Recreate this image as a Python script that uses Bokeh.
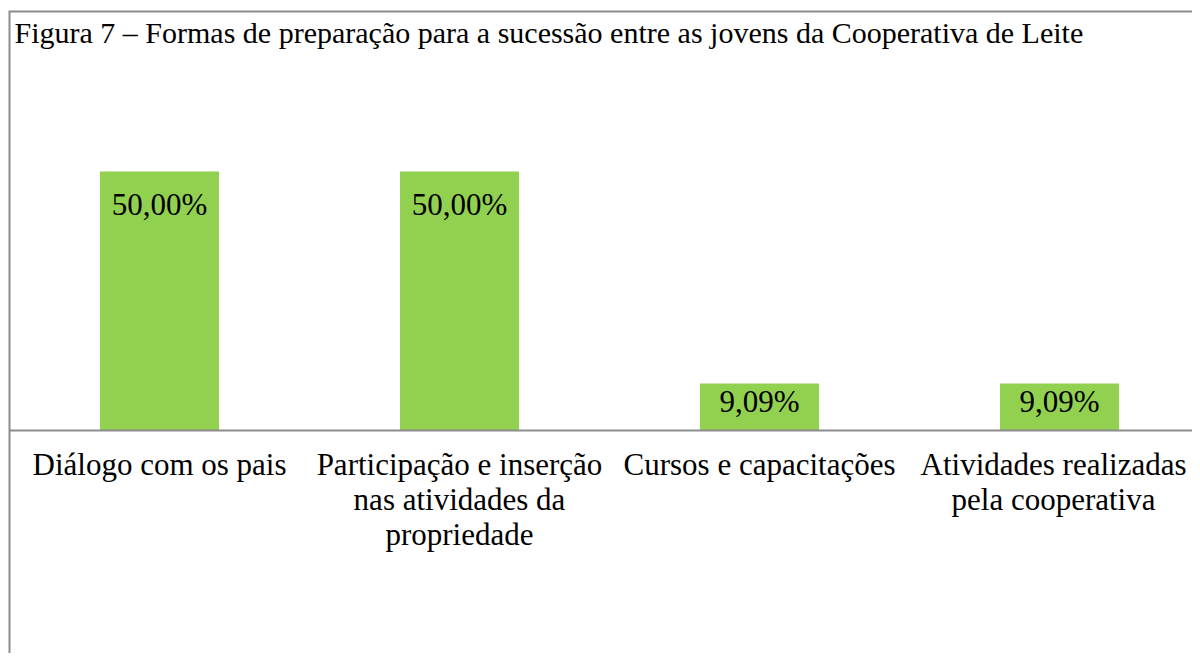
from bokeh.plotting import figure
from bokeh.models import Range1d
from bokeh.core.properties import value
from bokeh.embed import file_html
from bokeh.resources import INLINE

# ---- data ----
title_text = "Figura 7 – Formas de preparação para a sucessão entre as jovens da Cooperativa de Leite"
categories = [
    "Diálogo com os pais",
    "Participação e inserção\nnas atividades da\npropriedade",
    "Cursos e capacitações",
    "Atividades realizadas\npela cooperativa",
]
percent = [50.00, 50.00, 9.09, 9.09]
value_labels = [f"{v:.2f}".replace(".", ",") + "%" for v in percent]

# ---- geometry (canvas pixels) ----
W, H = 1192, 653
PX_X = 300.0          # px per category slot
PX_Y = 5.18           # px per percentage point
AXIS_PX = 430         # canvas y of the zero line
LEFT_PX = 9           # canvas x of the left border
TOP_PX = 11           # canvas y of the top border

x0 = -LEFT_PX / PX_X
x_end = x0 + W / PX_X
y_end = AXIS_PX / PX_Y
y_start = y_end - H / PX_Y
top_border = y_end - TOP_PX / PX_Y
title_y = y_end - (TOP_PX + 4) / PX_Y

xs = [i + 0.5 for i in range(len(categories))]

FONT = value("Liberation Serif")
GRAY = "#8c8c8c"

p = figure(
    width=W, height=H,
    x_range=Range1d(x0, x_end), y_range=Range1d(y_start, y_end),
    output_backend="svg", toolbar_location=None,
    x_axis_location=None, y_axis_location=None,
    min_border=0,
)
p.grid.visible = False
p.outline_line_color = None
p.background_fill_color = "white"
p.border_fill_color = "white"

# bars
p.vbar(x=xs, top=percent, bottom=0, width=119 / PX_X,
       fill_color="#92D050", line_color=None)

# chart border (left + top) and category axis line
p.line(x=[0, 0, x_end], y=[y_start, top_border, top_border],
       line_color=GRAY, line_width=2, line_join="miter")
p.line(x=[0, x_end], y=[0, 0], line_color=GRAY, line_width=2)

# value labels inside the bars
label_offsets = [15 if v > 20 else 1 for v in percent]
p.text(x=xs, y=percent, text=value_labels, text_align="center",
       text_baseline="top", y_offset=label_offsets,
       text_font=FONT, text_font_size="31px", text_color="black")

# category labels (last one nudged left so it stays inside the canvas)
cat_x_offsets = [0, 0, 0, -6]
p.text(x=xs, y=[0] * len(xs), text=categories, text_align="center",
       text_baseline="top", x_offset=cat_x_offsets, y_offset=16,
       text_line_height=1.0, text_font=FONT, text_font_size="31px",
       text_color="black")

# title
p.text(x=[0], y=[title_y], text=[title_text], text_align="left",
       text_baseline="top", x_offset=5, text_font=FONT,
       text_font_size="30px", text_color="black")

open("out.html", "w").write(file_html(p, INLINE))
